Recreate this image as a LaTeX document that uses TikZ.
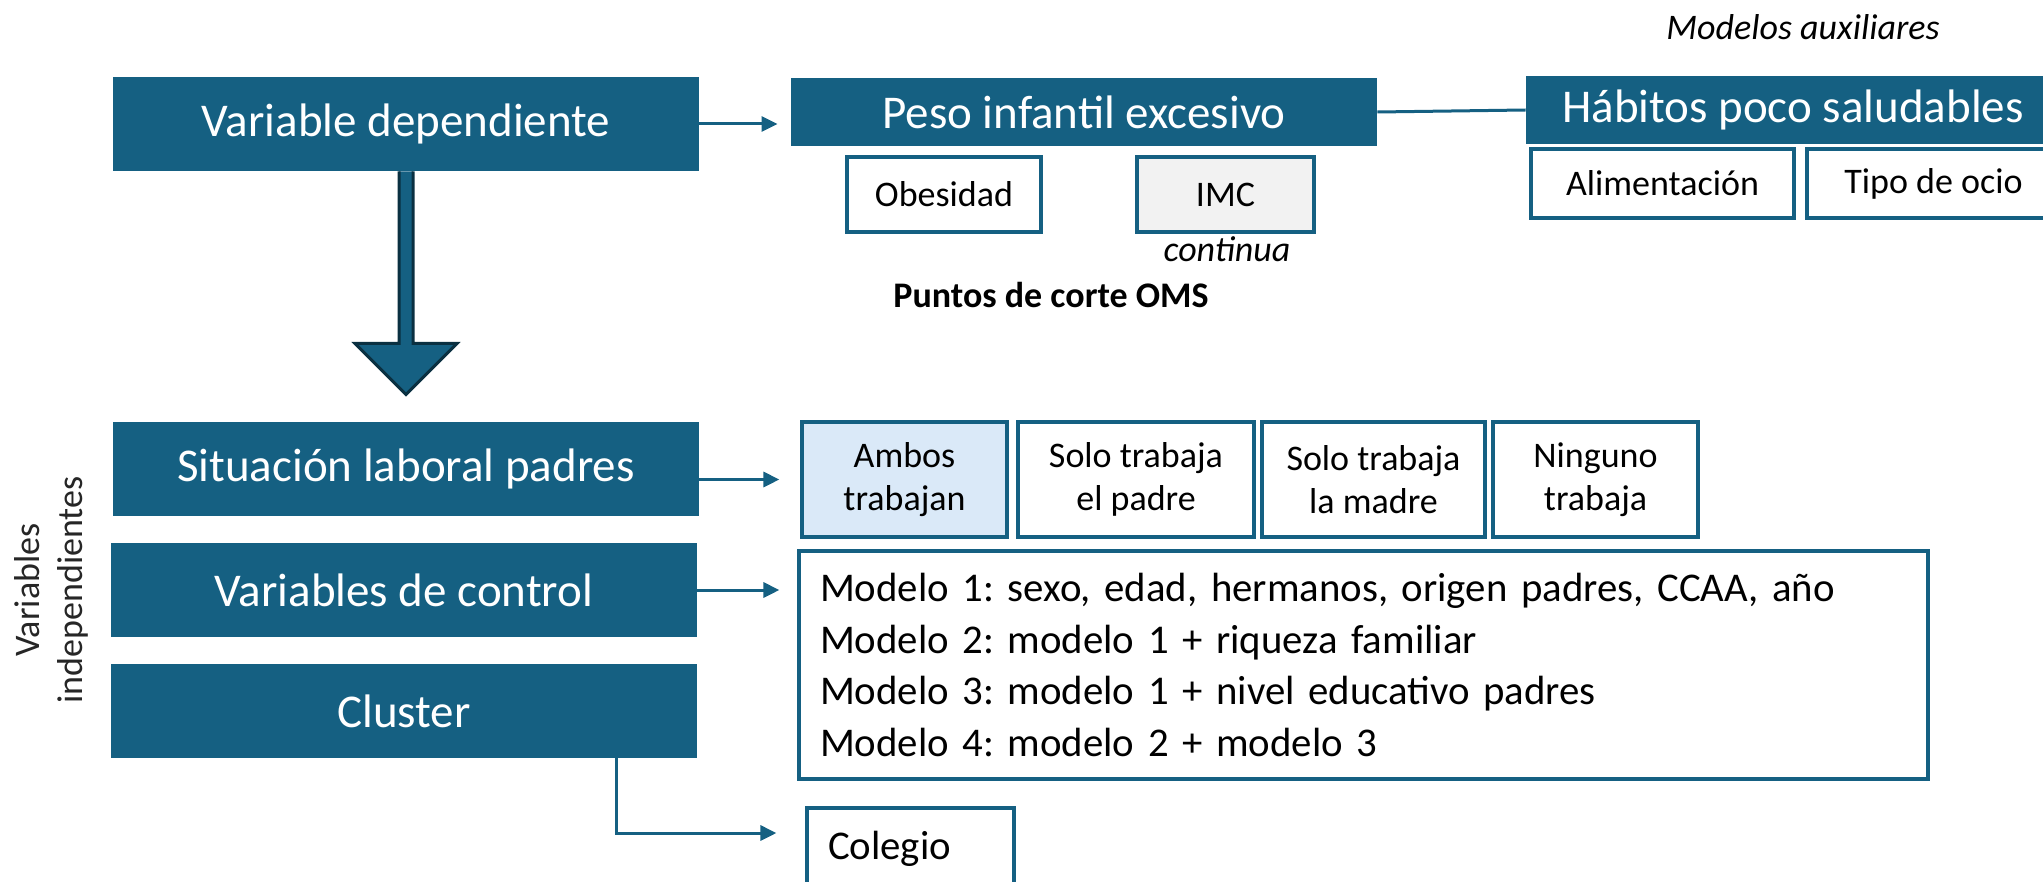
\documentclass[tikz,border=0pt]{standalone}
\usepackage{fontspec}
\setmainfont{Carlito}
\usepackage{tikz}
\usetikzlibrary{arrows.meta, calc}
\definecolor{azul}{HTML}{156082}
\definecolor{azuloscuro}{HTML}{0A3041}
\definecolor{celeste}{HTML}{DAE9F8}
\definecolor{gris}{HTML}{F2F2F2}
\definecolor{texto}{HTML}{262626}
\frenchspacing

\begin{document}
\begin{tikzpicture}[x=0.5pt, y=-0.5pt, >={Triangle[length=8pt, width=7.5pt]}]
    \tikzstyle{bloque} = [fill=azul, text=white, inner sep=0pt, minimum width=293pt, minimum height=47pt, font=\fontsize{23.5}{28}\selectfont]
    \tikzstyle{titulo} = [bloque, minimum height=34pt]
    \tikzstyle{opcion} = [draw=azul, line width=1.6pt, fill=white, inner sep=0pt, align=center, font=\fontsize{18}{21.5}\selectfont]
    \tikzstyle{etiqueta} = [inner sep=0pt, anchor=base, font=\fontsize{18}{21.5}\selectfont]
    \tikzstyle{conector} = [draw=azul, line width=1.5pt]
    \tikzstyle{flecha} = [fill=azul, draw=azuloscuro, line width=1.5pt, line join=miter]
    \clip (0,0) rectangle (2043,882);
    \node [bloque] at (406,124) (vardep) {Variable dependiente};
    \node [titulo] at (1084,112) (peso) {Peso infantil excesivo};
    \node [titulo, minimum width=267pt] at (1793,110) (habitos) {Hábitos poco saludables};
    \node [etiqueta] at (1803,40) (auxiliares) {\itshape Modelos auxiliares};
    \node [opcion, minimum width=97pt, minimum height=37.5pt] at (944,194.5) (obesidad) {Obesidad};
    \node [opcion, fill=gris, minimum width=88.5pt, minimum height=37.5pt] at (1225.5,194.5) (imc) {IMC};
    \node [etiqueta] at (1227,261) (continua) {\itshape continua};
    \node [etiqueta] at (1051,307) (puntos) {\bfseries Puntos de corte OMS};
    \node [opcion, minimum width=131.5pt, minimum height=34.5pt] at (1662.5,183.5) (alimentacion) {Alimentación};
    \node [opcion, minimum width=126.5pt, minimum height=34.5pt] at (1933.5,183.5) (ocio) {Tipo de ocio};

    \node [bloque] at (406,469) (situacion) {Situación laboral padres};
    \node [bloque] at (404,590) (control) {Variables de control};
    \node [bloque] at (404,711) (cluster) {Cluster};
    \node [etiqueta, rotate=90, anchor=center, align=center, text=texto] at (51,590) (independientes) {Variables\\independientes};
    \node [opcion, fill=celeste, minimum width=102.5pt, minimum height=57.5pt] at (904.5,479.5) (ambos) {Ambos\\trabajan};
    \node [opcion, minimum width=118pt, minimum height=57.5pt] at (1136,479.5) (padre) {Solo trabaja\\el padre};
    \node [opcion, minimum width=111.5pt, minimum height=57.5pt] at (1373.5,479.5) (madre) {Solo trabaja\\la madre};
    \node [opcion, minimum width=102.5pt, minimum height=57.5pt] at (1595.5,479.5) (ninguno) {Ninguno\\trabaja};
    \node [opcion, align=left, inner xsep=10.5pt, text width=543.5pt, minimum height=114pt, font=\fontsize{20.4}{25.8}\selectfont] at (1363.5,665) (modelos) {Modelo 1: sexo, edad, hermanos, origen padres, CCAA, año\\Modelo 2: modelo 1 + riqueza familiar\\Modelo 3: modelo 1 + nivel educativo padres\\Modelo 4: modelo 2 + modelo 3};
    \node [opcion, align=left, inner xsep=10.5pt, text width=82.5pt, minimum height=41pt, font=\fontsize{20.4}{25.8}\selectfont] at (910.5,849) (colegio) {Colegio};

    \draw [conector, ->, shorten >=6.5pt] (vardep.east) -- (vardep.east -| peso.west);
    \draw [conector] (peso.east) -- (habitos.west);
    \draw [conector, ->, shorten >=10.5pt] (situacion.east |- ambos.west) -- (ambos.west);
    \draw [conector, ->, shorten >=9pt] (control.east) -- (control.east -| modelos.west);
    \coordinate (codo) at (616,833);
    \draw [conector, ->, shorten >=14.5pt] (cluster.south -| codo) -- (codo) -- (codo -| colegio.west);
    \draw [flecha] ($(vardep.south)+(-7,0)$) -- ++(0,172) -- ++(-44,0) -- ($(vardep.south)+(0,223)$) -- ++(51,-51) -- ++(-44,0) -- ++(0,-172);
\end{tikzpicture}
\end{document}
